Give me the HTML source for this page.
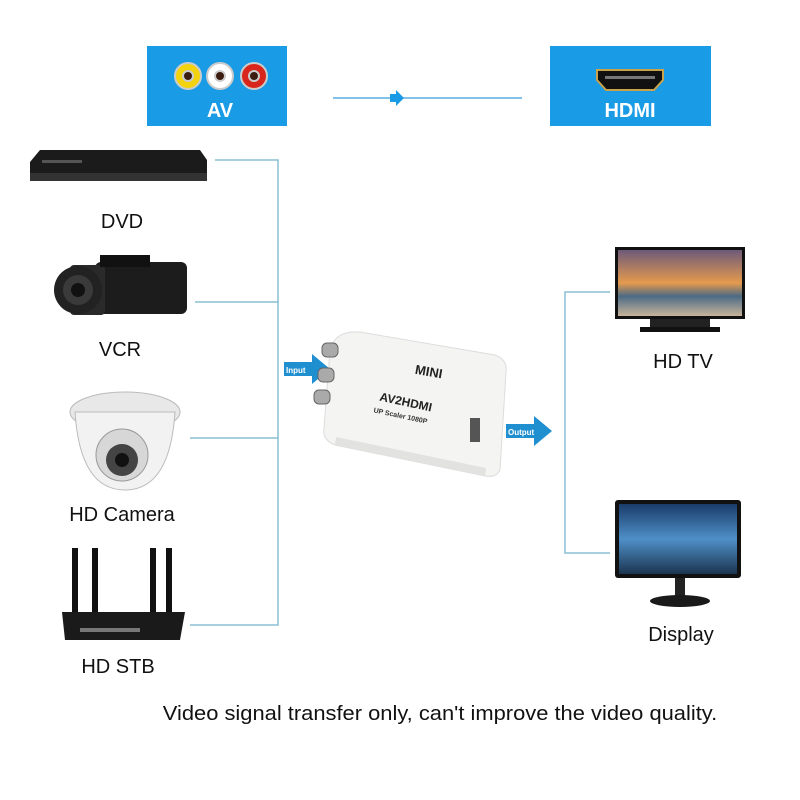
<!DOCTYPE html>
<html><head><style>
body{margin:0;width:800px;height:800px;background:#fff;position:relative;overflow:hidden;font-family:"Liberation Sans",sans-serif}
.a{position:absolute}
.lbl{position:absolute;font-size:20px;color:#111;transform:translateX(-50%);white-space:nowrap}
</style></head><body>
<div class="a" style="left:147px;top:46px;width:140px;height:80px;background:#1a9be6"></div>
<div class="a" style="left:550px;top:46px;width:161px;height:80px;background:#1a9be6"></div>
<svg class="a" style="left:0;top:0" width="800" height="800">
 <g stroke="#ccc" stroke-width="2">
 <circle cx="188" cy="76" r="13" fill="#f3d20e"/><circle cx="188" cy="76" r="5" fill="#3a1c10"/>
 <circle cx="220" cy="76" r="13" fill="#fff"/><circle cx="220" cy="76" r="5" fill="#3a1c10"/>
 <circle cx="254" cy="76" r="13" fill="#d9261c"/><circle cx="254" cy="76" r="5" fill="#3a1c10"/>
 </g>
 <path d="M597 70 h66 v10 l-9 10 h-48 l-9 -10z" fill="#111" stroke="#c9a24a" stroke-width="2"/>
 <rect x="605" y="76" width="50" height="3" fill="#777"/>
 <text x="220" y="117" font-size="20" font-weight="bold" fill="#fff" text-anchor="middle" font-family="Liberation Sans">AV</text>
 <text x="630" y="117" font-size="20" font-weight="bold" fill="#fff" text-anchor="middle" font-family="Liberation Sans">HDMI</text>
 <line x1="333" y1="98" x2="522" y2="98" stroke="#5aaee0" stroke-width="1.5"/>
 <path d="M390 94 h6 v-4 l8 8 -8 8 v-4 h-6z" fill="#1a9be6"/>
 <g stroke="#8bbfd4" stroke-width="1.5" fill="none">
 <path d="M215 160 H278 V625 H190 M195 302 H278 M190 438 H278"/>
 <path d="M610 292 H565 V553 H610"/>
 </g>
 <path d="M284 362 h28 v-8 l18 15 -18 15 v-8 h-28z" fill="#1f8fd0"/>
 <text x="286" y="373" font-size="8" font-weight="bold" fill="#fff" font-family="Liberation Sans">Input</text>
 <path d="M506 424 h28 v-8 l18 15 -18 15 v-8 h-28z" fill="#1f8fd0"/>
 <text x="508" y="435" font-size="8" font-weight="bold" fill="#fff" font-family="Liberation Sans">Output</text>
 <path d="M360 332 L495 355 Q508 360 506 372 L500 470 Q496 478 485 476 L335 445 Q322 440 324 428 L330 350 Q335 330 360 332z" fill="#f4f4f2" stroke="#ddd"/>
 <path d="M335 445 L485 476 L486 468 L336 437z" fill="#e2e2e0"/>
 <g fill="#aaa" stroke="#666"><rect x="322" y="343" width="16" height="14" rx="5"/><rect x="318" y="368" width="16" height="14" rx="5"/><rect x="314" y="390" width="16" height="14" rx="5"/></g>
 <rect x="470" y="418" width="10" height="24" fill="#555"/>
 <text x="428" y="376" font-size="13" font-weight="bold" fill="#222" transform="rotate(10 428 376)" text-anchor="middle" font-family="Liberation Sans">MINI</text>
 <text x="405" y="406" font-size="12" font-weight="bold" fill="#222" transform="rotate(12 405 406)" text-anchor="middle" font-family="Liberation Sans">AV2HDMI</text>
 <text x="400" y="418" font-size="7" font-weight="bold" fill="#333" transform="rotate(12 400 418)" text-anchor="middle" font-family="Liberation Sans">UP Scaler 1080P</text>
 <path d="M40 150 H200 L207 160 V175 H30 V162z" fill="#1b1b1b"/><rect x="30" y="173" width="177" height="8" fill="#333"/>
 <rect x="42" y="160" width="40" height="3" fill="#555"/>
 <rect x="95" y="262" width="92" height="52" rx="6" fill="#1c1c1c"/>
 <rect x="70" y="265" width="35" height="50" rx="4" fill="#2a2a2a"/>
 <circle cx="78" cy="290" r="24" fill="#222"/><circle cx="78" cy="290" r="15" fill="#3a3a3a"/><circle cx="78" cy="290" r="7" fill="#111"/>
 <rect x="100" y="255" width="50" height="12" fill="#111"/>
 <ellipse cx="125" cy="412" rx="55" ry="20" fill="#e8e8e8" stroke="#bbb"/>
 <path d="M75 412 Q80 490 125 490 Q170 490 175 412z" fill="#f2f2f2" stroke="#bbb"/>
 <circle cx="122" cy="455" r="26" fill="#d7d7d7" stroke="#999"/>
 <circle cx="122" cy="460" r="16" fill="#444"/><circle cx="122" cy="460" r="7" fill="#111"/>
 <g fill="#111"><rect x="72" y="548" width="6" height="70"/><rect x="92" y="548" width="6" height="70"/><rect x="150" y="548" width="6" height="70"/><rect x="166" y="548" width="6" height="70"/></g>
 <path d="M62 612 H185 L180 640 H65z" fill="#1a1a1a"/>
 <rect x="80" y="628" width="60" height="4" fill="#777"/>
 <rect x="615" y="247" width="130" height="72" fill="#111"/>
 <defs><linearGradient id="sky" x1="0" y1="0" x2="0" y2="1"><stop offset="0" stop-color="#6d5a7a"/><stop offset=".5" stop-color="#e59a4d"/><stop offset=".7" stop-color="#4c6a85"/><stop offset="1" stop-color="#c8b49a"/></linearGradient>
 <linearGradient id="sea" x1="0" y1="0" x2="0" y2="1"><stop offset="0" stop-color="#1a3c6a"/><stop offset=".5" stop-color="#4f8fc8"/><stop offset="1" stop-color="#1c3550"/></linearGradient></defs>
 <rect x="618" y="250" width="124" height="66" fill="url(#sky)"/>
 <rect x="650" y="319" width="60" height="8" fill="#222"/><rect x="640" y="327" width="80" height="5" fill="#111"/>
 <rect x="615" y="500" width="126" height="78" rx="3" fill="#111"/>
 <rect x="619" y="504" width="118" height="70" fill="url(#sea)"/>
 <rect x="675" y="578" width="10" height="18" fill="#222"/>
 <ellipse cx="680" cy="601" rx="30" ry="6" fill="#1a1a1a"/>
</svg>
<div class="lbl" style="left:122px;top:211px">DVD</div>
<div class="lbl" style="left:120px;top:339px">VCR</div>
<div class="lbl" style="left:122px;top:504px">HD Camera</div>
<div class="lbl" style="left:118px;top:656px">HD STB</div>
<div class="lbl" style="left:683px;top:351px">HD TV</div>
<div class="lbl" style="left:681px;top:624px">Display</div>
<div class="lbl" style="left:440px;top:703px;font-size:20px;transform:translateX(-50%) scaleX(1.095)">Video signal transfer only, can't improve the video quality.</div>
</body></html>
